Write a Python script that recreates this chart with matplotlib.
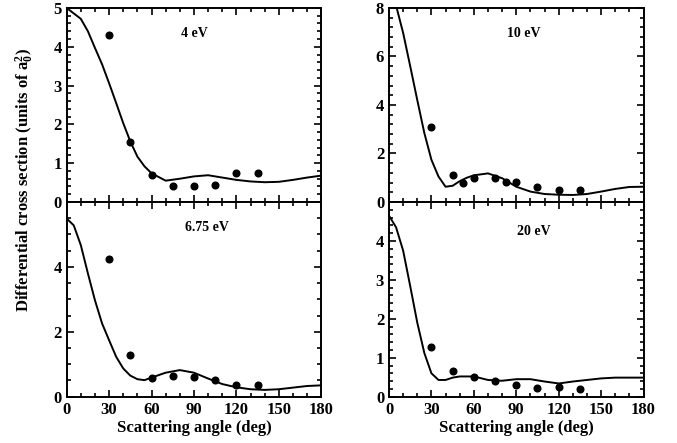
import matplotlib.pyplot as plt
from matplotlib.ticker import MultipleLocator

plt.rcParams['font.family'] = ['Liberation Serif', 'DejaVu Serif']
plt.rcParams['font.weight'] = 'bold'
plt.rcParams['mathtext.fontset'] = 'custom'
plt.rcParams['mathtext.rm'] = 'Liberation Serif:bold'
plt.rcParams['mathtext.it'] = 'Liberation Serif:bold'

# theory curves (angle in deg)
curve_angle = [0, 5, 10, 15, 20, 25, 30, 35, 40, 45, 50, 55, 60, 70, 80, 90,
               100, 110, 120, 130, 140, 150, 160, 170, 180]
curve_4ev = [5.0, 4.86, 4.72, 4.4, 3.97, 3.55, 3.06, 2.55, 2.03, 1.56, 1.17, 0.92,
             0.74, 0.55, 0.6, 0.66, 0.69, 0.63, 0.57, 0.53, 0.51, 0.52, 0.57, 0.63, 0.68]
curve_10ev = [9.2, 8.1, 6.97, 5.6, 4.2, 2.84, 1.74, 1.05, 0.63, 0.67, 0.86, 1.0,
              1.1, 1.18, 0.98, 0.63, 0.43, 0.33, 0.3, 0.29, 0.33, 0.43, 0.54, 0.62, 0.63]
curve_675ev = [5.49, 5.28, 4.67, 3.8, 2.97, 2.26, 1.74, 1.23, 0.87, 0.65, 0.54, 0.51,
               0.59, 0.74, 0.82, 0.74, 0.56, 0.39, 0.29, 0.23, 0.21, 0.23, 0.28, 0.33, 0.35]
curve_20ev = [4.65, 4.35, 3.75, 2.84, 1.9, 1.12, 0.6, 0.43, 0.43, 0.49, 0.52, 0.52,
              0.52, 0.43, 0.41, 0.45, 0.45, 0.39, 0.34, 0.39, 0.43, 0.47, 0.49, 0.49, 0.49]

# measured points
pts_angle = [30, 45, 60, 75, 90, 105, 120, 135]
pts_4ev = [4.3, 1.55, 0.7, 0.42, 0.42, 0.45, 0.75, 0.75]
pts_675ev = [4.25, 1.27, 0.57, 0.63, 0.6, 0.52, 0.36, 0.36]
pts_20ev = [1.28, 0.67, 0.5, 0.41, 0.29, 0.23, 0.26, 0.21]
pts_angle_10 = [30, 45, 52.5, 60, 75, 82.5, 90, 105, 120, 135]
pts_10ev = [3.11, 1.12, 0.8, 0.98, 0.99, 0.83, 0.83, 0.61, 0.5, 0.5]

fig = plt.figure(figsize=(6.77, 4.43), dpi=100)

x0, x1 = 0.0985, 0.4745
x2, x3 = 0.5746, 0.9498
yb, ym, yt = 0.1045, 0.544, 0.982
w = x1 - x0
h_top = yt - ym
h_bot = ym - yb

panels = [
    ([x0, ym, w, h_top], curve_4ev, pts_angle, pts_4ev, '4 eV', (0.5, 0.87), 5, 0.2, [0, 1, 2, 3, 4, 5], False),
    ([x2, ym, w, h_top], curve_10ev, pts_angle_10, pts_10ev, '10 eV', (0.53, 0.87), 8, 0.4, [0, 2, 4, 6, 8], False),
    ([x0, yb, w, h_bot], curve_675ev, pts_angle, pts_675ev, '6.75 eV', (0.55, 0.867), 6, 0.5, [0, 2, 4], True),
    ([x2, yb, w, h_bot], curve_20ev, pts_angle, pts_20ev, '20 eV', (0.57, 0.85), 5, 0.2, [0, 1, 2, 3, 4], True),
]

for rect, curve, px, py, label, lpos, ymax, yminor, yticks, bottom in panels:
    ax = fig.add_axes(rect)
    ax.plot(curve_angle, curve, color='black', lw=1.4)
    ax.plot(px, py, 'o', color='black', ms=4.8)
    ax.set_xlim(0, 180)
    ax.set_ylim(0, ymax)
    ax.set_xticks([0, 30, 60, 90, 120, 150, 180])
    ax.xaxis.set_minor_locator(MultipleLocator(10))
    ax.set_yticks(yticks)
    ax.yaxis.set_minor_locator(MultipleLocator(yminor))
    ax.tick_params(which='both', direction='in', top=True, right=True, width=1.2)
    ax.tick_params(which='major', length=5, labelsize=12)
    ax.tick_params(which='minor', length=3)
    for s in ax.spines.values():
        s.set_linewidth(1.4)
    if bottom:
        ax.set_xlabel('Scattering angle (deg)', fontsize=12, fontweight='bold', labelpad=2)
    else:
        ax.tick_params(labelbottom=False)
    ax.text(lpos[0], lpos[1], label, transform=ax.transAxes, ha='center', va='center',
            fontsize=10, fontweight='bold')

fig.text(0.037, 0.594, r'Differential cross section (units of a$_0^2$)', rotation=90,
         ha='center', va='center', fontsize=12, fontweight='bold')

fig.savefig('out.png', dpi=100)
